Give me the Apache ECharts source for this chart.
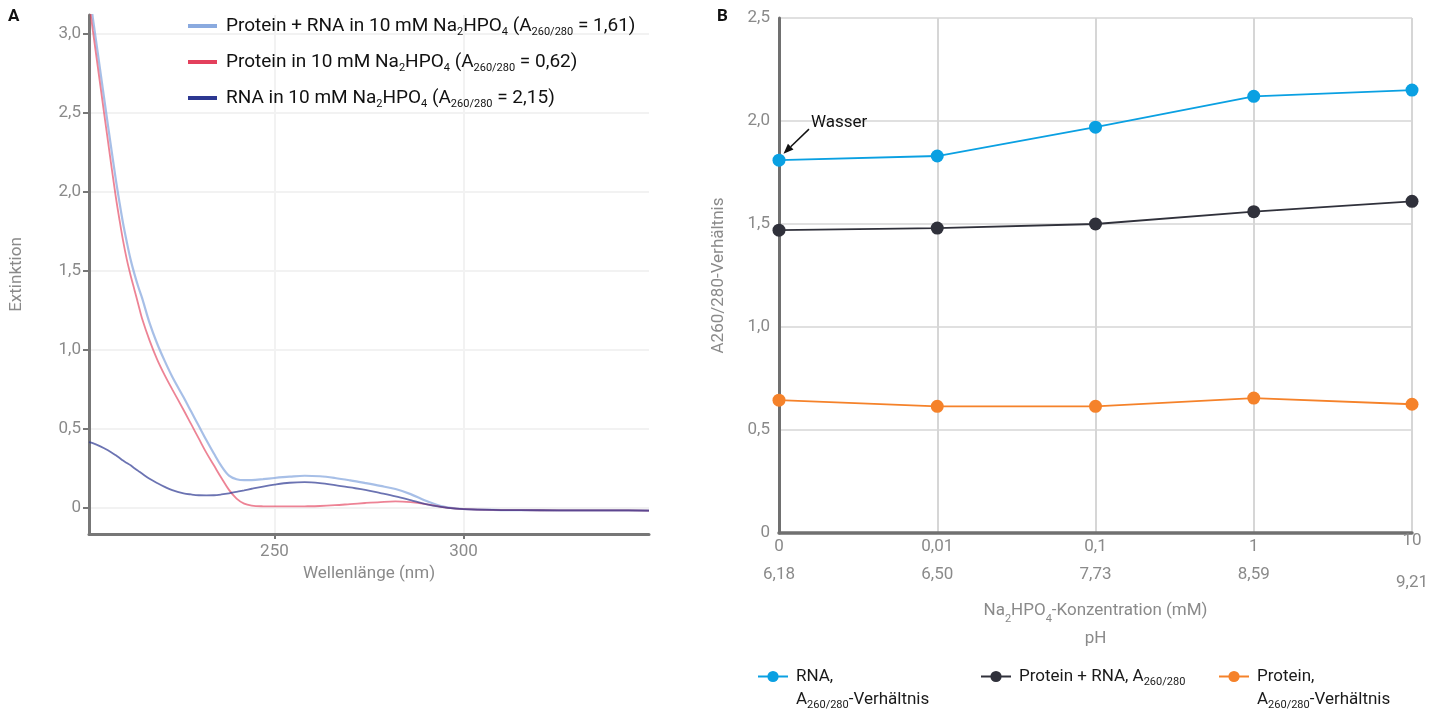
<!DOCTYPE html>
<html>
<head>
<meta charset="utf-8">
<script src="https://cdn.jsdelivr.net/npm/echarts@6/dist/echarts.min.js"></script>
<style>
  html, body { margin: 0; padding: 0; background: #fff; }
  #main { width: 1442px; height: 715px; }
</style>
</head>
<body>
<div id="main"></div>
<script>
// ---- Panel A: Spektren ----
var wavelengths = [201, 202, 204, 206, 208, 209, 210, 211, 212, 213, 214, 215, 217, 219, 221, 223, 226, 228, 230, 232,
  234, 236, 238, 240, 242, 244, 247, 250, 254, 258, 262, 266, 270, 274, 278, 282, 286, 290, 294, 298,
  302, 310, 320, 330, 340, 349];
var proteinRnaSpectrum = [3.27, 3.1, 2.76, 2.42, 2.09, 1.94, 1.8, 1.68, 1.57, 1.48, 1.4, 1.33, 1.17, 1.04, 0.93, 0.83, 0.7, 0.61, 0.52, 0.43,
  0.345, 0.265, 0.205, 0.182, 0.176, 0.177, 0.183, 0.19, 0.198, 0.204, 0.201, 0.19, 0.175, 0.158, 0.14, 0.12, 0.088, 0.046, 0.012, -0.003,
  -0.009, -0.013, -0.014, -0.015, -0.015, -0.016];
var proteinSpectrum = [3.2, 3.02, 2.67, 2.32, 1.98, 1.83, 1.69, 1.57, 1.47, 1.38, 1.29, 1.2, 1.06, 0.94, 0.84, 0.75, 0.62, 0.53, 0.44, 0.35,
  0.27, 0.19, 0.115, 0.06, 0.028, 0.016, 0.011, 0.01, 0.01, 0.011, 0.013, 0.018, 0.025, 0.032, 0.038, 0.042, 0.037, 0.025, 0.008, -0.003,
  -0.009, -0.013, -0.014, -0.015, -0.015, -0.016];
var rnaSpectrum = [0.416, 0.41, 0.39, 0.365, 0.335, 0.318, 0.3, 0.285, 0.27, 0.252, 0.235, 0.218, 0.185, 0.158, 0.134, 0.113, 0.093, 0.086, 0.081, 0.08,
  0.081, 0.086, 0.093, 0.102, 0.112, 0.122, 0.136, 0.148, 0.16, 0.164, 0.158, 0.145, 0.13, 0.115, 0.095, 0.074, 0.05, 0.025, 0.008, -0.003,
  -0.009, -0.013, -0.014, -0.015, -0.015, -0.016];
var extinctionTicks = [0, 0.5, 1, 1.5, 2, 2.5, 3];
var wavelengthTicks = [250, 300];

// ---- Panel B: Verhältnisse ----
var concentrations = ['0', '0,01', '0,1', '1', '10'];
var phValues = ['6,18', '6,50', '7,73', '8,59', '9,21'];
var rnaRatio = [1.81, 1.83, 1.97, 2.12, 2.15];
var proteinRnaRatio = [1.47, 1.48, 1.50, 1.56, 1.61];
var proteinRatio = [0.645, 0.615, 0.615, 0.655, 0.625];

var FONT = 'Roboto';
var GRAY = '#8a8a8a';
var sub = { fontSize: 11, lineHeight: 10, verticalAlign: 'bottom' };

function comma(v) {
  return v === 0 ? '0' : v.toFixed(1).replace('.', ',');
}
function pairs(arr) {
  return wavelengths.map(function (w, i) { return [w, arr[i]]; });
}

var legendTextA = {
  'Protein + RNA A': 'Protein + RNA in 10 mM Na{s|2}HPO{s|4} (A{s|260/280} = 1,61)',
  'Protein A': 'Protein in 10 mM Na{s|2}HPO{s|4} (A{s|260/280} = 0,62)',
  'RNA A': 'RNA in 10 mM Na{s|2}HPO{s|4} (A{s|260/280} = 2,15)'
};
var legendTextB = {
  'RNA B': 'RNA,\nA{s|260/280}-Verhältnis',
  'Protein + RNA B': 'Protein + RNA, A{s|260/280}',
  'Protein B': 'Protein,\nA{s|260/280}-Verhältnis'
};

var myChart = echarts.init(document.getElementById('main'));

function legendB(name, left, top, twoLines) {
  return {
    data: [name],
    left: left,
    top: top,
    padding: 0,
    itemWidth: 30,
    itemHeight: 14,
    textStyle: {
      fontFamily: FONT, fontSize: 17, color: '#1a1a1a', lineHeight: 23,
      padding: twoLines ? [23, 0, 0, 3] : [0, 0, 0, 3],
      rich: { s: sub }
    },
    formatter: function (n) { return legendTextB[n]; }
  };
}

var option = {
  animation: false,
  textStyle: { fontFamily: FONT },
  title: [
    { text: 'A', left: 8, top: 8, padding: 0, textStyle: { fontFamily: FONT, fontSize: 17, fontWeight: 'bold', color: '#111' } },
    { text: 'B', left: 717, top: 8, padding: 0, textStyle: { fontFamily: FONT, fontSize: 17, fontWeight: 'bold', color: '#111' } }
  ],
  legend: [
    {
      data: ['Protein + RNA A', 'Protein A', 'RNA A'],
      orient: 'vertical',
      left: 188,
      top: 14,
      padding: 0,
      itemGap: 12,
      itemWidth: 29,
      itemHeight: 4,
      icon: 'rect',
      textStyle: { fontFamily: FONT, fontSize: 19, color: '#111', lineHeight: 24, padding: [0, 0, 0, 4], rich: { s: sub } },
      formatter: function (n) { return legendTextA[n]; }
    },
    legendB('RNA B', 757, 642, true),
    legendB('Protein + RNA B', 980, 665, false),
    legendB('Protein B', 1218, 642, true)
  ],
  grid: [
    { left: 89, right: 793, top: 15, bottom: 181 },
    { left: 779, right: 30, top: 18, bottom: 182 }
  ],
  xAxis: [
    {
      gridIndex: 0,
      type: 'value',
      min: 201,
      max: 349,
      name: 'Wellenlänge (nm)',
      nameLocation: 'middle',
      nameGap: 28,
      nameTextStyle: { color: GRAY, fontSize: 17, fontFamily: FONT },
      axisLine: { onZero: false, lineStyle: { color: '#777', width: 3 } },
      axisTick: { show: true, length: 5, customValues: wavelengthTicks, lineStyle: { color: '#777', width: 2 } },
      axisLabel: { customValues: wavelengthTicks, color: GRAY, fontSize: 17, fontFamily: FONT, margin: 9 },
      splitLine: { show: true, lineStyle: { color: '#f2f2f2', width: 2 } }
    },
    {
      gridIndex: 1,
      type: 'category',
      boundaryGap: false,
      data: concentrations,
      name: 'Na{s|2}HPO{s|4}-Konzentration (mM)\npH',
      nameLocation: 'middle',
      nameGap: 60,
      nameTextStyle: { color: GRAY, fontSize: 17, fontFamily: FONT, lineHeight: 28, rich: { s: sub } },
      axisLine: { onZero: false, lineStyle: { color: '#707070', width: 3.5 } },
      axisTick: { show: false },
      axisLabel: {
        margin: 0,
        color: GRAY,
        fontSize: 17,
        fontFamily: FONT,
        formatter: function (v, i) {
          if (i === concentrations.length - 1) {
            return '{tl|' + v + '}\n{bl|' + phValues[i] + '}';
          }
          return '{t|' + v + '}\n{b|' + phValues[i] + '}';
        },
        rich: {
          t: { lineHeight: 28, color: GRAY, fontSize: 17 },
          b: { lineHeight: 28, color: GRAY, fontSize: 17 },
          tl: { lineHeight: 16, color: GRAY, fontSize: 17 },
          bl: { lineHeight: 68, color: GRAY, fontSize: 17 }
        }
      },
      splitLine: { show: true, lineStyle: { color: '#d6d6d6', width: 2 } }
    }
  ],
  yAxis: [
    {
      gridIndex: 0,
      type: 'value',
      min: -0.164,
      max: 3.116,
      name: 'Extinktion',
      nameLocation: 'middle',
      nameGap: 64,
      nameTextStyle: { color: GRAY, fontSize: 17, fontFamily: FONT },
      axisLine: { show: true, onZero: false, lineStyle: { color: '#777', width: 3 } },
      axisTick: { show: true, length: 6, customValues: extinctionTicks, lineStyle: { color: '#777', width: 2 } },
      axisLabel: { customValues: extinctionTicks, formatter: comma, color: GRAY, fontSize: 17, fontFamily: FONT, margin: 8 },
      splitLine: { show: true, lineStyle: { color: '#f2f2f2', width: 2 } }
    },
    {
      gridIndex: 1,
      type: 'value',
      min: 0,
      max: 2.5,
      interval: 0.5,
      name: 'A260/280-Verhältnis',
      nameLocation: 'middle',
      nameGap: 52,
      nameTextStyle: { color: GRAY, fontSize: 17, fontFamily: FONT },
      axisLine: { show: true, onZero: false, lineStyle: { color: '#707070', width: 3 } },
      axisTick: { show: false },
      axisLabel: { formatter: comma, color: GRAY, fontSize: 17, fontFamily: FONT, margin: 9 },
      splitLine: { show: true, lineStyle: { color: '#d6d6d6', width: 1.5 } }
    }
  ],
  series: [
    {
      name: 'Protein + RNA A', type: 'line', xAxisIndex: 0, yAxisIndex: 0,
      data: pairs(proteinRnaSpectrum), smooth: 0.35, showSymbol: false, clip: true,
      itemStyle: { color: '#8aaadf' }, lineStyle: { color: '#8aaadf', width: 2.2, opacity: 0.75 }
    },
    {
      name: 'Protein A', type: 'line', xAxisIndex: 0, yAxisIndex: 0,
      data: pairs(proteinSpectrum), smooth: 0.35, showSymbol: false, clip: true,
      itemStyle: { color: '#e3405c' }, lineStyle: { color: '#e3405c', width: 1.8, opacity: 0.65 }
    },
    {
      name: 'RNA A', type: 'line', xAxisIndex: 0, yAxisIndex: 0,
      data: pairs(rnaSpectrum), smooth: 0.35, showSymbol: false, clip: true,
      itemStyle: { color: '#2c3791' }, lineStyle: { color: '#2c3791', width: 1.8, opacity: 0.7 }
    },
    {
      name: 'RNA B', type: 'line', xAxisIndex: 1, yAxisIndex: 1,
      data: rnaRatio, symbol: 'circle', symbolSize: 13,
      itemStyle: { color: '#0aa0e2' }, lineStyle: { color: '#0aa0e2', width: 1.8 }
    },
    {
      name: 'Protein + RNA B', type: 'line', xAxisIndex: 1, yAxisIndex: 1,
      data: proteinRnaRatio, symbol: 'circle', symbolSize: 13,
      itemStyle: { color: '#30313b' }, lineStyle: { color: '#30313b', width: 1.8 }
    },
    {
      name: 'Protein B', type: 'line', xAxisIndex: 1, yAxisIndex: 1,
      data: proteinRatio, symbol: 'circle', symbolSize: 13,
      itemStyle: { color: '#f5822a' }, lineStyle: { color: '#f5822a', width: 1.8 }
    }
  ]
};

option && myChart.setOption(option);

// Anmerkung "Wasser" mit Pfeil auf den ersten RNA-Punkt
var p = myChart.convertToPixel({ xAxisIndex: 1, yAxisIndex: 1 }, [0, rnaRatio[0]]);
var tip = [p[0] + 4.5, p[1] - 6.5];
var tail = [p[0] + 30, p[1] - 31];
var dx = tip[0] - tail[0], dy = tip[1] - tail[1];
var len = Math.sqrt(dx * dx + dy * dy);
var ux = dx / len, uy = dy / len;
var headLen = 10, headW = 4;
var base = [tip[0] - ux * headLen, tip[1] - uy * headLen];
myChart.setOption({
  graphic: [
    {
      type: 'line',
      shape: { x1: tail[0], y1: tail[1], x2: base[0], y2: base[1] },
      style: { stroke: '#111', lineWidth: 1.5 }
    },
    {
      type: 'polygon',
      shape: { points: [tip, [base[0] - uy * headW, base[1] + ux * headW], [base[0] + uy * headW, base[1] - ux * headW]] },
      style: { fill: '#111' }
    },
    {
      type: 'text',
      x: p[0] + 32,
      y: p[1] - 37,
      style: { text: 'Wasser', fontFamily: FONT, fontSize: 17, fill: '#111', verticalAlign: 'middle' }
    }
  ]
});

window.addEventListener('resize', function () {
  myChart.resize();
});
</script>
</body>
</html>
